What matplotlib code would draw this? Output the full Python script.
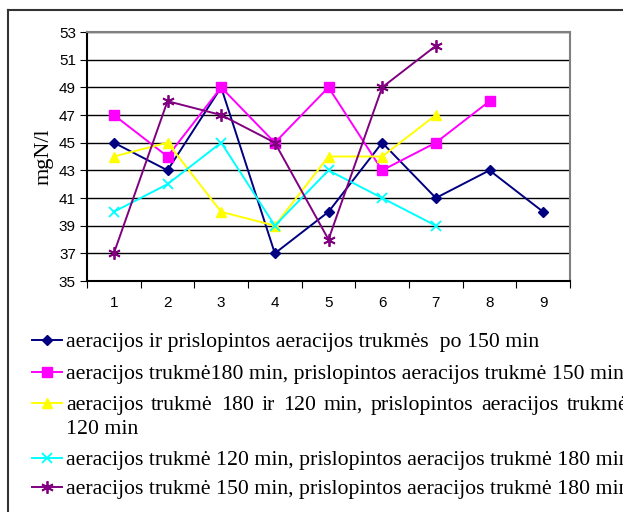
import matplotlib
matplotlib.use("Agg")
import matplotlib.pyplot as plt
from matplotlib.lines import Line2D

# Bandymų numeriai ir azoto koncentracija (mgN/l)
bandymai = [1, 2, 3, 4, 5, 6, 7, 8, 9]
po150 = [45, 43, 49, 37, 40, 45, 41, 43, 40]
a180_p150 = [47, 44, 49, 45, 49, 43, 45, 48]
a180_120_p120 = [44, 45, 40, 39, 44, 44, 47]
a120_p180 = [40, 42, 45, 39, 43, 41, 39]
a150_p180 = [37, 48, 47, 45, 38, 49, 52]

pavadinimai = [
    "aeracijos ir prislopintos aeracijos trukmės  po 150 min",
    "aeracijos trukmė180 min, prislopintos aeracijos trukmė 150 min",
    "aeracijos trukmė 180 ir 120 min, prislopintos aeracijos trukmė",
    "aeracijos trukmė 120 min, prislopintos aeracijos trukmė 180 min",
    "aeracijos trukmė 150 min, prislopintos aeracijos trukmė 180 min",
]
tesinys = "120 min"
y_ticks = [35, 37, 39, 41, 43, 45, 47, 49, 51, 53]

serijos = [po150, a180_p150, a180_120_p120, a120_p180, a150_p180]
spalvos = ["#000080", "#FF00FF", "#FFFF00", "#00FFFF", "#800080"]
zymekliai = ["D", "s", "^", "x", (6, 2, 0)]
dydziai = [5.5, 7.5, 7, 7, 9]

W, H = 623, 512
fig = plt.figure(figsize=(W / 100, H / 100), dpi=100)
ax = fig.add_axes([87 / W, 1 - 281 / H, (570 - 87) / W, (281 - 32) / H])

for y, c, m, s in zip(serijos, spalvos, zymekliai, dydziai):
    ax.plot(bandymai[:len(y)], y, color=c, marker=m, markersize=s,
            markeredgewidth=1.3 if m in ("x", (6, 2, 0)) else 1, lw=1.4)

ax.set_xlim(0.5, 9.5)
ax.set_ylim(35, 53)
ax.set_yticks(y_ticks)
ax.set_xticks([i + 0.5 for i in range(0, 10)], minor=False)
ax.set_xticklabels([])
ax.set_xticks(bandymai, minor=True)
ax.set_xticklabels([str(b) for b in bandymai], minor=True)
ax.tick_params(axis="x", which="minor", length=0, pad=11)
ax.tick_params(axis="x", which="major", length=5, direction="out")
ax.tick_params(axis="y", length=5, direction="out", pad=3)
for lab in ax.get_xticklabels(minor=True) + ax.get_yticklabels():
    lab.set_fontfamily("Liberation Sans")
    lab.set_fontsize(11)
ax.yaxis.grid(True, color="black", lw=1)
ax.set_axisbelow(True)
for sp in ax.spines.values():
    sp.set_color("#808080")
    sp.set_linewidth(1.5)
ax.spines["bottom"].set_color("black")
ax.spines["left"].set_color("black")
ax.set_ylabel("mgN/l", fontfamily="Liberation Serif", fontsize=16, labelpad=4)

# išorinis rėmelis
fig.add_artist(Line2D([8 / W, 1], [1 - 10 / H] * 2, color="#333333", lw=1.5))
fig.add_artist(Line2D([8 / W] * 2, [1 - 10 / H, 0], color="#333333", lw=1.5))

# legenda
sriftas = dict(fontfamily="Liberation Serif", fontsize=15.7, va="center_baseline", ha="left")
renderer = fig.canvas.get_renderer()
eilutes = [340, 372, 403, 458, 487]
for i, (y_px, c, m, s, tekstas) in enumerate(zip(eilutes, spalvos, zymekliai, dydziai, pavadinimai)):
    yf = 1 - y_px / H
    fig.add_artist(Line2D([32 / W, 62 / W], [yf, yf], color=c, lw=1.4))
    fig.add_artist(Line2D([47 / W], [yf], color=c, marker=m, markersize=s,
                          markeredgewidth=1.3 if m in ("x", (6, 2, 0)) else 1))
    if i != 2:
        fig.text(66 / W, yf, tekstas, **sriftas)
        continue
    # lygiuota eilutė: žodžiai išdėstomi iki 628 px pločio
    zodziai = [fig.text(0, yf, z, **sriftas) for z in tekstas.split()]
    plociai = [t.get_window_extent(renderer).width for t in zodziai]
    tarpas = (628 - 66 - sum(plociai)) / (len(zodziai) - 1)
    x = 66
    for t, w in zip(zodziai, plociai):
        t.set_x(x / W)
        x += w + tarpas
fig.text(66 / W, 1 - 427 / H, tesinys, **sriftas)

fig.savefig("out.png", dpi=100)
